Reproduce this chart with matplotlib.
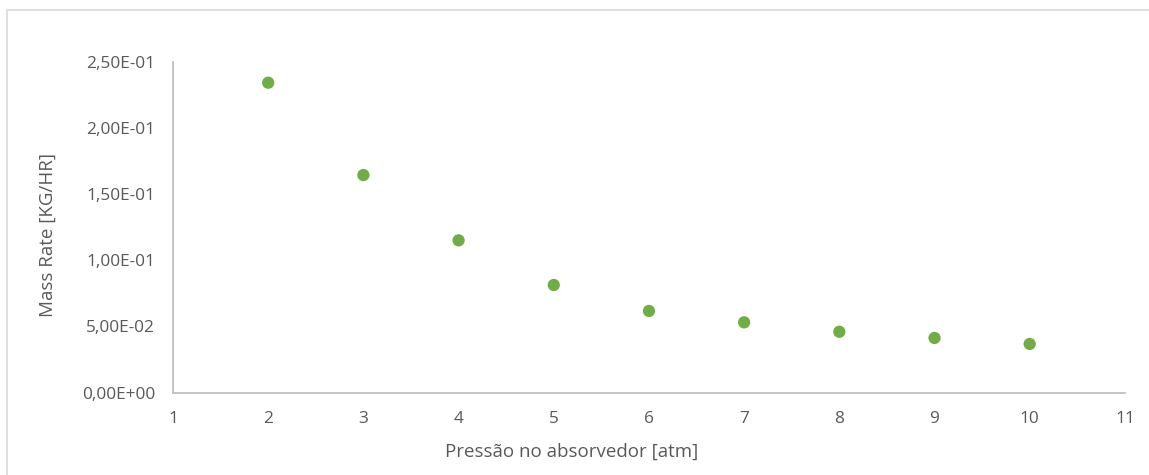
import matplotlib
matplotlib.use("Agg")
import matplotlib.pyplot as plt
from matplotlib.patches import Rectangle
from matplotlib.ticker import FuncFormatter

# Absorber pressure [atm] and resulting mass rate [kg/h]
pressure = [2, 3, 4, 5, 6, 7, 8, 9, 10]
mass_rate = [0.2340, 0.1643, 0.1150, 0.0813, 0.0617, 0.0531, 0.0460, 0.0413, 0.0368]

x_ticks = [1, 2, 3, 4, 5, 6, 7, 8, 9, 10, 11]
y_ticks = [0.0, 0.05, 0.10, 0.15, 0.20, 0.25]

plt.rcParams['font.family'] = ['Open Sans', 'DejaVu Sans']

fig = plt.figure(figsize=(11.49, 4.75), dpi=100)
ax = fig.add_axes([0.1506, 0.1733, 0.8284, 0.6972])

# light frame around the chart area
fig.patches.append(Rectangle((7 / 1149, -0.05), 1.2, (475 - 10) / 475 + 0.05,
                             transform=fig.transFigure, fill=False,
                             edgecolor='#D9D9D9', linewidth=1.2, zorder=0))

ax.scatter(pressure, mass_rate, s=78, color='#70AD47', edgecolors='none', zorder=3)

ax.set_xlim(1, 11)
ax.set_ylim(0, 0.25)
ax.set_xticks(x_ticks)
ax.set_yticks(y_ticks)


def sci_comma(v, pos):
    s = f"{v:.2E}"
    return s.replace('.', ',')


ax.yaxis.set_major_formatter(FuncFormatter(sci_comma))

for side in ['top', 'right']:
    ax.spines[side].set_visible(False)
for side in ['left', 'bottom']:
    ax.spines[side].set_color('#BFBFBF')
    ax.spines[side].set_linewidth(1.3)

ax.tick_params(axis='both', length=0, labelsize=12.4, labelcolor='#595959')
ax.tick_params(axis='y', pad=13)
ax.tick_params(axis='x', pad=13)

# axis titles centred on the whole figure
fig.text(572 / 1149, 1 - 452 / 475, 'Pressão no absorvedor [atm]', fontsize=13.5,
         color='#595959', ha='center', va='center')
fig.text(48 / 1149, 1 - 235 / 475, 'Mass Rate [KG/HR]', fontsize=13.5,
         color='#595959', ha='center', va='center', rotation=90)

fig.savefig('out.png', dpi=100)
